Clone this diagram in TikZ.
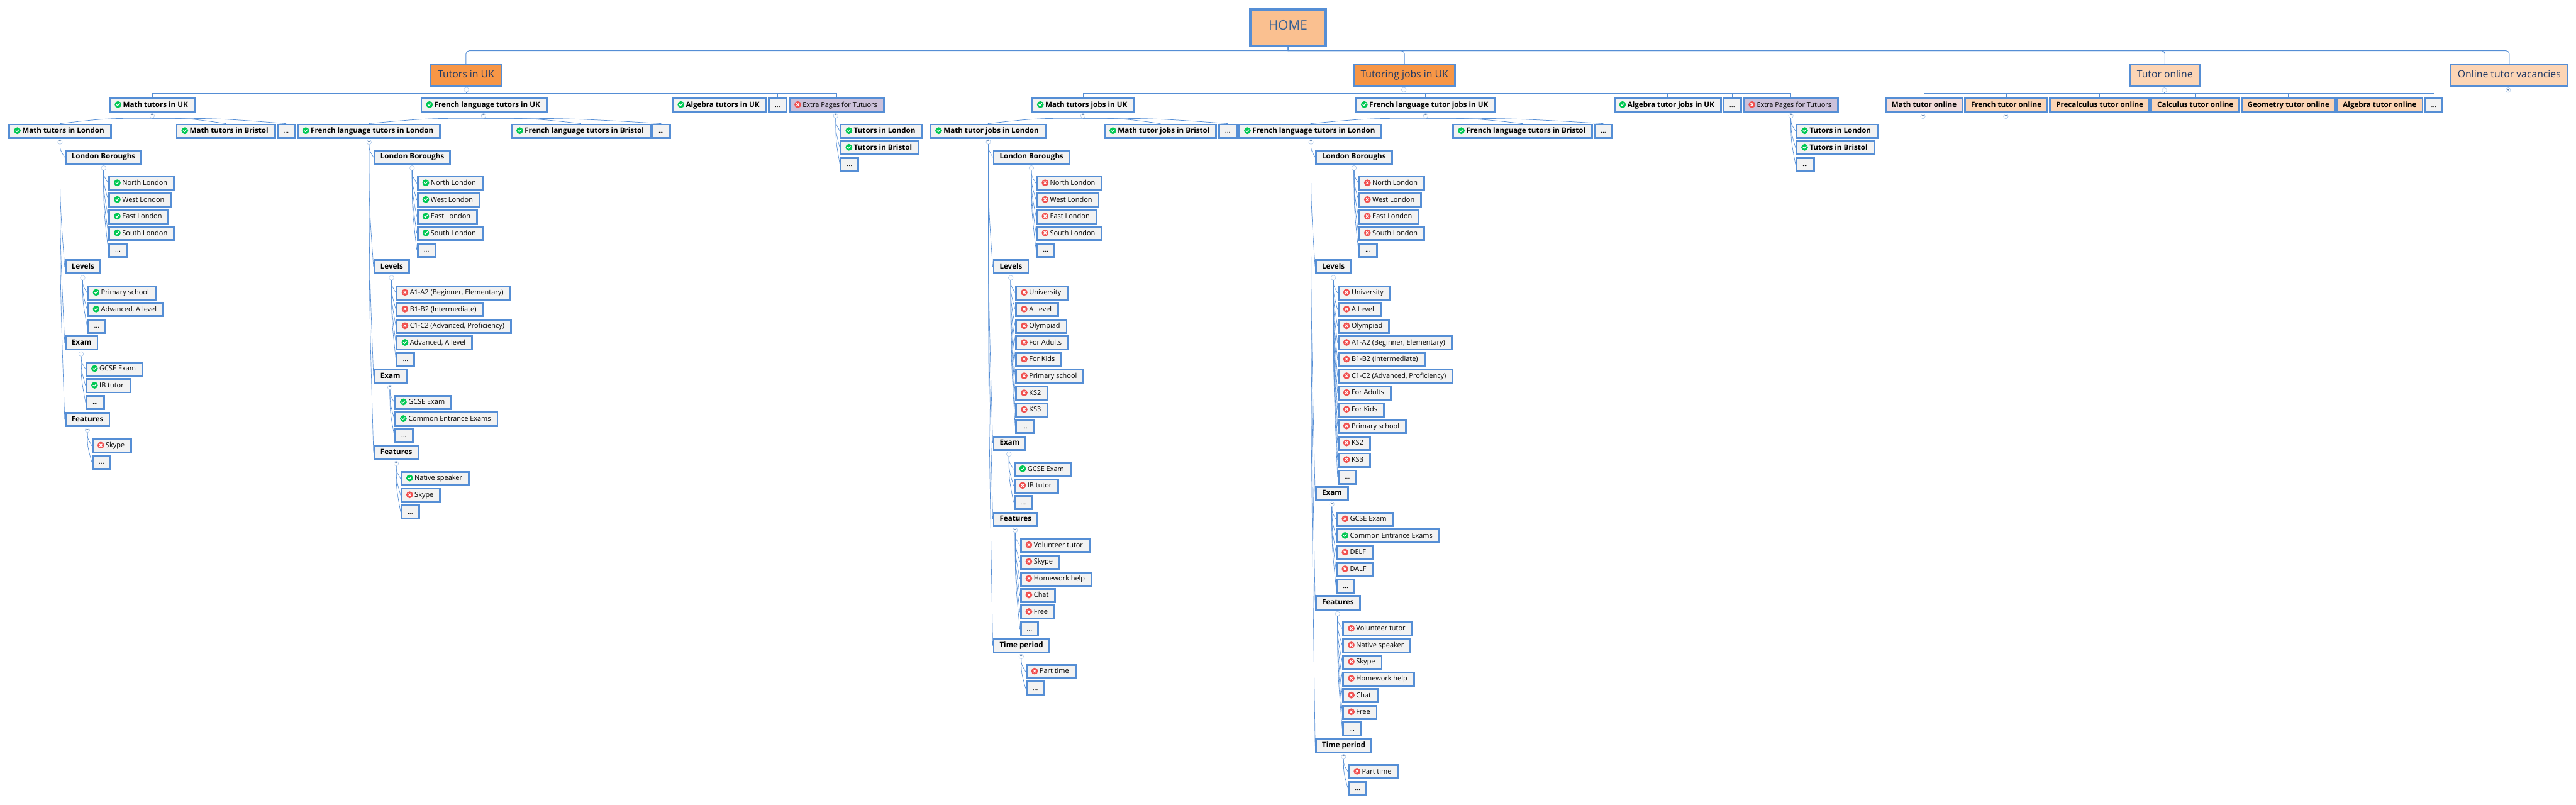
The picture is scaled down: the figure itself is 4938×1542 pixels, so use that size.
\documentclass[tikz,border=0pt]{standalone}
\usepackage{fontspec}
\setmainfont{Open Sans}
\usetikzlibrary{calc}

\definecolor{linkblue}{HTML}{558ED5}
\definecolor{boxgrey}{HTML}{F2F2F2}
\definecolor{okgreen}{HTML}{00C853}
\definecolor{nored}{HTML}{F05050}
\definecolor{navy}{HTML}{1F3864}
\definecolor{homeblue}{HTML}{366092}
\definecolor{rootfill}{HTML}{FAC090}
\definecolor{hubfill}{HTML}{F79646}
\definecolor{onlinefill}{HTML}{FCD5B5}
\definecolor{pinkfill}{HTML}{F2DCDB}
\definecolor{extrafill}{HTML}{CCC1DA}

\newcommand{\iconok}{\tikz[baseline=-4.6pt]{\fill[okgreen] (0,0) circle (6.5pt);
  \draw[white, line width=1.5pt, line cap=round] (-3pt,0pt) -- (-.8pt,-2pt) -- (3pt,2pt);}\kern3pt}
\newcommand{\iconno}{\tikz[baseline=-4.6pt]{\fill[nored] (0,0) circle (6.5pt);
  \draw[white, line width=1.5pt, line cap=round] (-2.2pt,-2.2pt) -- (2.2pt,2.2pt) (-2.2pt,2.2pt) -- (2.2pt,-2.2pt);}\kern3pt}

\begin{document}
\begin{tikzpicture}[
  x=1pt, y=-1pt,
  anybox/.style={draw=linkblue, line width=3.5pt, fill=boxgrey, anchor=north west,
    inner ysep=0pt, minimum height=25.5pt, text height=10pt, text depth=3pt,
    font=\fontsize{13.2}{15}\selectfont},
  leafbox/.style={anybox, inner xsep=9pt, execute at end node={\kern3.5pt}},
  markbox/.style={leafbox, font=\fontsize{14}{15}\selectfont\bfseries},
  headbox/.style={anybox, inner xsep=11.5pt, font=\fontsize{14}{15}\selectfont\bfseries},
  dotsbox/.style={anybox, inner xsep=11.5pt},
  topbox/.style={anybox, fill=onlinefill, inner xsep=13.5pt, minimum height=40.5pt,
    text=navy, text height=14pt, text depth=4.5pt, font=\fontsize{19}{22}\selectfont},
  togglebox/.style={circle, draw=linkblue!45, line width=.8pt, fill=white, inner sep=0pt,
    minimum size=9pt, text=linkblue!70!black, font=\fontsize{8}{8}\selectfont\bfseries},
  treelink/.style={linkblue, line width=.8pt,
    to path={.. controls ($(\tikztostart)!.5!(\tikztostart |- \tikztotarget)$) .. (\tikztotarget)}},
  archlink/.style={linkblue, line width=.9pt,
    to path={.. controls ($(\tikztostart)!.5!(\tikztostart -| \tikztotarget)$) .. (\tikztotarget)}},
  buslink/.style={linkblue, line width=1.1pt,
    to path={-- ++(0,1.8) -| (\tikztotarget)}},
  rootlink/.style={linkblue, line width=1.2pt,
    to path={-- ++(0,7.3) [rounded corners=6pt] -| (\tikztotarget)}}
]
  \useasboundingbox (0,0) rectangle (4938,1542);

  % top of the tree
  \node[topbox, fill=rootfill, line width=5pt, minimum width=145pt, minimum height=69pt,
    text=homeblue, font=\fontsize{25}{28}\selectfont] (home) at (2394,16) {HOME};
  \node[topbox, fill=hubfill] (tutors) at (824,122) {Tutors in UK};
  \node[topbox, fill=hubfill] (jobs) at (2593,122) {Tutoring jobs in UK};
  \node[topbox] (online) at (4081,122) {Tutor online};
  \node[topbox] (vacancies) at (4696,122) {Online tutor vacancies};
  \node[togglebox] (tutorst) at (894,172) {−};
  \node[togglebox] (jobst) at (2691,172) {−};
  \node[togglebox] (onlinet) at (4149,172.7) {−};
  \node[togglebox] (vacanciest) at (4808,172.7) {+};

  % tutors in UK, second row
  \node[markbox] (tMath) at (209,187) {\iconok Math tutors in UK};
  \node[markbox] (tFre) at (806,187) {\iconok French language tutors in UK};
  \node[markbox] (tAlg) at (1288,187) {\iconok Algebra tutors in UK};
  \node[dotsbox] (tDots) at (1472,187) {...};
  \node[leafbox, fill=extrafill] (tExtra) at (1512,187) {\iconno Extra Pages for Tutuors};
  \node[togglebox] (tMatht) at (291.6,222) {−};
  \node[togglebox] (tFret) at (927,222) {−};
  \node[togglebox] (tExtrat) at (1602,222) {−};

  % math tutors
  \node[markbox] (tMLon) at (16,237) {\iconok Math tutors in London};
  \node[markbox] (tMBri) at (337,237) {\iconok Math tutors in Bristol};
  \node[dotsbox] (tMDots) at (530,237) {...};
  \node[togglebox] (tMLont) at (115,272) {−};
  \node[headbox] (tMBor) at (124,287) {London Boroughs};
  \node[togglebox] (tMBort) at (198.6,322) {−};
  \node[leafbox] (tMB1) at (207.6,337) {\iconok North London};
  \node[leafbox] (tMB2) at (207.6,369) {\iconok West London};
  \node[leafbox] (tMB3) at (207.6,401) {\iconok East London};
  \node[leafbox] (tMB4) at (207.6,433) {\iconok South London};
  \node[dotsbox] (tMB5) at (207.6,465) {...};
  \node[headbox] (tMLev) at (124,497) {Levels};
  \node[togglebox] (tMLevt) at (158.5,532.5) {−};
  \node[leafbox] (tML1) at (167,547) {\iconok Primary school};
  \node[leafbox] (tML2) at (167,579) {\iconok Advanced, A level};
  \node[dotsbox] (tML3) at (167,611) {...};
  \node[headbox] (tMExa) at (124,643) {Exam};
  \node[togglebox] (tMExat) at (155.5,678.5) {−};
  \node[leafbox] (tME1) at (164,693) {\iconok GCSE Exam};
  \node[leafbox] (tME2) at (164,725) {\iconok IB tutor};
  \node[dotsbox] (tME3) at (164,757) {...};
  \node[headbox] (tMFea) at (124,790) {Features};
  \node[togglebox] (tMFeat) at (167.5,824.5) {−};
  \node[leafbox] (tMF1) at (176,840) {\iconno Skype};
  \node[dotsbox] (tMF2) at (176,871.5) {...};

  % french tutors
  \node[markbox] (tFLon) at (569,237) {\iconok French language tutors in London};
  \node[markbox] (tFBri) at (979,237) {\iconok French language tutors in Bristol};
  \node[dotsbox] (tFDots) at (1249,237) {...};
  \node[togglebox] (tFLont) at (707.5,272.5) {−};
  \node[headbox] (tFBor) at (716,287) {London Boroughs};
  \node[togglebox] (tFBort) at (790,322) {−};
  \node[leafbox] (tFB1) at (799,337) {\iconok North London};
  \node[leafbox] (tFB2) at (799,369) {\iconok West London};
  \node[leafbox] (tFB3) at (799,401) {\iconok East London};
  \node[leafbox] (tFB4) at (799,433) {\iconok South London};
  \node[dotsbox] (tFB5) at (799,465) {...};
  \node[headbox] (tFLev) at (716,497) {Levels};
  \node[togglebox] (tFLevt) at (750.5,532.5) {−};
  \node[leafbox] (tFL1) at (759,547) {\iconno A1-A2 (Beginner, Elementary)};
  \node[leafbox] (tFL2) at (759,579) {\iconno B1-B2 (Intermediate)};
  \node[leafbox] (tFL3) at (759,611) {\iconno C1-C2 (Advanced, Proficiency)};
  \node[leafbox] (tFL4) at (759,643) {\iconok Advanced, A level};
  \node[dotsbox] (tFL5) at (759,675) {...};
  \node[headbox] (tFExa) at (716,707) {Exam};
  \node[togglebox] (tFExat) at (747.5,742.5) {−};
  \node[leafbox] (tFE1) at (756,757) {\iconok GCSE Exam};
  \node[leafbox] (tFE2) at (756,789) {\iconok Common Entrance Exams};
  \node[dotsbox] (tFE3) at (756,821) {...};
  \node[headbox] (tFFea) at (716,853) {Features};
  \node[togglebox] (tFFeat) at (759.5,888.5) {−};
  \node[leafbox] (tFF1) at (768,903) {\iconok Native speaker};
  \node[leafbox] (tFF2) at (768,935) {\iconno Skype};
  \node[dotsbox] (tFF3) at (768,967) {...};

  % extra pages, tutors
  \node[markbox] (tX1) at (1610,237) {\iconok Tutors in London};
  \node[markbox] (tX2) at (1610,269) {\iconok Tutors in Bristol};
  \node[dotsbox] (tX3) at (1610,301) {...};

  % tutoring jobs, second row
  \node[markbox] (jMath) at (1977,187) {\iconok Math tutors jobs in UK};
  \node[markbox] (jFre) at (2598,187) {\iconok French language tutor jobs in UK};
  \node[markbox] (jAlg) at (3093,187) {\iconok Algebra tutor jobs in UK};
  \node[dotsbox] (jDots) at (3302,187) {...};
  \node[leafbox, fill=extrafill] (jExtra) at (3341,187) {\iconno Extra Pages for Tutuors};
  \node[togglebox] (jMatht) at (2076,222) {−};
  \node[togglebox] (jFret) at (2733,222) {−};
  \node[togglebox] (jExtrat) at (3433,222) {−};

  % math tutor jobs
  \node[markbox] (jMLon) at (1782,237) {\iconok Math tutor jobs in London};
  \node[markbox] (jMBri) at (2116,237) {\iconok Math tutor jobs in Bristol};
  \node[dotsbox] (jMDots) at (2335,237) {...};
  \node[togglebox] (jMLont) at (1894.6,272) {−};
  \node[headbox] (jMBor) at (1903,287) {London Boroughs};
  \node[togglebox] (jMBort) at (1977,322) {−};
  \node[leafbox] (jMB1) at (1986,337) {\iconno North London};
  \node[leafbox] (jMB2) at (1986,369) {\iconno West London};
  \node[leafbox] (jMB3) at (1986,401) {\iconno East London};
  \node[leafbox] (jMB4) at (1986,433) {\iconno South London};
  \node[dotsbox] (jMB5) at (1986,465) {...};
  \node[headbox] (jMLev) at (1903,497) {Levels};
  \node[togglebox] (jMLevt) at (1937.5,532.5) {−};
  \node[leafbox] (jML1) at (1946,547) {\iconno University};
  \node[leafbox] (jML2) at (1946,579) {\iconno A Level};
  \node[leafbox] (jML3) at (1946,611) {\iconno Olympiad};
  \node[leafbox] (jML4) at (1946,643) {\iconno For Adults};
  \node[leafbox] (jML5) at (1946,675) {\iconno For Kids};
  \node[leafbox] (jML6) at (1946,707) {\iconno Primary school};
  \node[leafbox] (jML7) at (1946,739.5) {\iconno KS2};
  \node[leafbox] (jML8) at (1946,771.5) {\iconno KS3};
  \node[dotsbox] (jML9) at (1946,803) {...};
  \node[headbox] (jMExa) at (1903,835) {Exam};
  \node[togglebox] (jMExat) at (1934,870.5) {−};
  \node[leafbox] (jME1) at (1943,885) {\iconok GCSE Exam};
  \node[leafbox] (jME2) at (1943,917) {\iconno IB tutor};
  \node[dotsbox] (jME3) at (1943,949) {...};
  \node[headbox] (jMFea) at (1903,981) {Features};
  \node[togglebox] (jMFeat) at (1946,1016.5) {−};
  \node[leafbox] (jMF1) at (1955,1031) {\iconno Volunteer tutor};
  \node[leafbox] (jMF2) at (1955,1063) {\iconno Skype};
  \node[leafbox] (jMF3) at (1955,1095.5) {\iconno Homework help};
  \node[leafbox] (jMF4) at (1955,1127) {\iconno Chat};
  \node[leafbox] (jMF5) at (1955,1159) {\iconno Free};
  \node[dotsbox] (jMF6) at (1955,1191.5) {...};
  \node[headbox] (jMTim) at (1903,1223) {Time period};
  \node[togglebox] (jMTimt) at (1957.6,1258.5) {−};
  \node[leafbox] (jMT1) at (1966,1273) {\iconno Part time};
  \node[dotsbox] (jMT2) at (1966,1305) {...};

  % french tutor jobs
  \node[markbox] (jFLon) at (2374,237) {\iconok French language tutors in London};
  \node[markbox] (jFBri) at (2784,237) {\iconok French language tutors in Bristol};
  \node[dotsbox] (jFDots) at (3055,237) {...};
  \node[togglebox] (jFLont) at (2513,272) {−};
  \node[headbox] (jFBor) at (2521,287) {London Boroughs};
  \node[togglebox] (jFBort) at (2595.6,322) {−};
  \node[leafbox] (jFB1) at (2604,337) {\iconno North London};
  \node[leafbox] (jFB2) at (2604,369) {\iconno West London};
  \node[leafbox] (jFB3) at (2604,401) {\iconno East London};
  \node[leafbox] (jFB4) at (2604,433) {\iconno South London};
  \node[dotsbox] (jFB5) at (2604,465) {...};
  \node[headbox] (jFLev) at (2521,497) {Levels};
  \node[togglebox] (jFLevt) at (2556,532.5) {−};
  \node[leafbox] (jFL1) at (2564,547) {\iconno University};
  \node[leafbox] (jFL2) at (2564,579) {\iconno A Level};
  \node[leafbox] (jFL3) at (2564,611) {\iconno Olympiad};
  \node[leafbox] (jFL4) at (2564,643) {\iconno A1-A2 (Beginner, Elementary)};
  \node[leafbox] (jFL5) at (2564,675) {\iconno B1-B2 (Intermediate)};
  \node[leafbox] (jFL6) at (2564,707) {\iconno C1-C2 (Advanced, Proficiency)};
  \node[leafbox] (jFL7) at (2564,739) {\iconno For Adults};
  \node[leafbox] (jFL8) at (2564,771) {\iconno For Kids};
  \node[leafbox] (jFL9) at (2564,803) {\iconno Primary school};
  \node[leafbox] (jFL10) at (2564,835.5) {\iconno KS2};
  \node[leafbox] (jFL11) at (2564,867.5) {\iconno KS3};
  \node[dotsbox] (jFL12) at (2564,900) {...};
  \node[headbox] (jFExa) at (2521,931.5) {Exam};
  \node[togglebox] (jFExat) at (2553,966.5) {−};
  \node[leafbox] (jFE1) at (2561,981) {\iconno GCSE Exam};
  \node[leafbox] (jFE2) at (2561,1013) {\iconok Common Entrance Exams};
  \node[leafbox] (jFE3) at (2561,1045) {\iconno DELF};
  \node[leafbox] (jFE4) at (2561,1077) {\iconno DALF};
  \node[dotsbox] (jFE5) at (2561,1109.5) {...};
  \node[headbox] (jFFea) at (2521,1141) {Features};
  \node[togglebox] (jFFeat) at (2564,1176.5) {−};
  \node[leafbox] (jFF1) at (2573,1191) {\iconno Volunteer tutor};
  \node[leafbox] (jFF2) at (2573,1223) {\iconno Native speaker};
  \node[leafbox] (jFF3) at (2573,1255) {\iconno Skype};
  \node[leafbox] (jFF4) at (2573,1287) {\iconno Homework help};
  \node[leafbox] (jFF5) at (2573,1319) {\iconno Chat};
  \node[leafbox] (jFF6) at (2573,1351) {\iconno Free};
  \node[dotsbox] (jFF7) at (2573,1383) {...};
  \node[headbox] (jFTim) at (2521,1415) {Time period};
  \node[togglebox] (jFTimt) at (2575.5,1450.5) {−};
  \node[leafbox] (jFT1) at (2584,1465) {\iconno Part time};
  \node[dotsbox] (jFT2) at (2584,1497) {...};

  % extra pages, jobs
  \node[markbox] (jX1) at (3442,237) {\iconok Tutors in London};
  \node[markbox] (jX2) at (3442,269) {\iconok Tutors in Bristol};
  \node[dotsbox] (jX3) at (3442,301) {...};

  % tutor online row
  \node[headbox, fill=pinkfill] (oMath) at (3613,187) {Math tutor online};
  \node[headbox, fill=onlinefill] (oFre) at (3765,187) {French tutor online};
  \node[headbox, fill=onlinefill] (oPre) at (3928,187) {Precalculus tutor online};
  \node[headbox, fill=onlinefill] (oCal) at (4122,187) {Calculus tutor online};
  \node[headbox, fill=onlinefill] (oGeo) at (4295,187) {Geometry tutor online};
  \node[headbox, fill=onlinefill] (oAlg) at (4478,187) {Algebra tutor online};
  \node[dotsbox] (oDots) at (4647,187) {...};
  \node[togglebox] (oMatht) at (3686,223) {+};
  \node[togglebox] (oFret) at (3845,223) {+};

  % connectors
  \draw[rootlink] (home.south) edge (tutors.north) edge (jobs.north)
    edge (online.north) edge (vacancies.north);
  \draw[buslink] (tutorst.south) edge (tMath.north) edge (tFre.north) edge (tAlg.north)
    edge (tDots.north) edge (tExtra.north);
  \draw[buslink] (jobst.south) edge (jMath.north) edge (jFre.north) edge (jAlg.north)
    edge (jDots.north) edge (jExtra.north);
  \draw[buslink] (onlinet.south) edge (oMath.north) edge (oFre.north) edge (oPre.north)
    edge (oCal.north) edge (oGeo.north) edge (oAlg.north) edge (oDots.north);
  \draw[archlink] (tMatht.south) edge (tMLon.north) edge (tMBri.north) edge (tMDots.north);
  \draw[archlink] (tFret.south) edge (tFLon.north) edge (tFBri.north) edge (tFDots.north);
  \draw[archlink] (jMatht.south) edge (jMLon.north) edge (jMBri.north) edge (jMDots.north);
  \draw[archlink] (jFret.south) edge (jFLon.north) edge (jFBri.north) edge (jFDots.north);

  \draw[treelink] (tExtrat) edge (tX1.west) edge (tX2.west) edge (tX3.west);
  \draw[treelink] (jExtrat) edge (jX1.west) edge (jX2.west) edge (jX3.west);

  \draw[treelink] (tMLont) edge (tMBor.west) edge (tMLev.west) edge (tMExa.west) edge (tMFea.west);
  \draw[treelink] (tMBort) edge (tMB1.west) edge (tMB2.west) edge (tMB3.west) edge (tMB4.west) edge (tMB5.west);
  \draw[treelink] (tMLevt) edge (tML1.west) edge (tML2.west) edge (tML3.west);
  \draw[treelink] (tMExat) edge (tME1.west) edge (tME2.west) edge (tME3.west);
  \draw[treelink] (tMFeat) edge (tMF1.west) edge (tMF2.west);

  \draw[treelink] (tFLont) edge (tFBor.west) edge (tFLev.west) edge (tFExa.west) edge (tFFea.west);
  \draw[treelink] (tFBort) edge (tFB1.west) edge (tFB2.west) edge (tFB3.west) edge (tFB4.west) edge (tFB5.west);
  \draw[treelink] (tFLevt) edge (tFL1.west) edge (tFL2.west) edge (tFL3.west) edge (tFL4.west) edge (tFL5.west);
  \draw[treelink] (tFExat) edge (tFE1.west) edge (tFE2.west) edge (tFE3.west);
  \draw[treelink] (tFFeat) edge (tFF1.west) edge (tFF2.west) edge (tFF3.west);

  \draw[treelink] (jMLont) edge (jMBor.west) edge (jMLev.west) edge (jMExa.west) edge (jMFea.west) edge (jMTim.west);
  \draw[treelink] (jMBort) edge (jMB1.west) edge (jMB2.west) edge (jMB3.west) edge (jMB4.west) edge (jMB5.west);
  \draw[treelink] (jMLevt) edge (jML1.west) edge (jML2.west) edge (jML3.west) edge (jML4.west) edge (jML5.west)
    edge (jML6.west) edge (jML7.west) edge (jML8.west) edge (jML9.west);
  \draw[treelink] (jMExat) edge (jME1.west) edge (jME2.west) edge (jME3.west);
  \draw[treelink] (jMFeat) edge (jMF1.west) edge (jMF2.west) edge (jMF3.west) edge (jMF4.west) edge (jMF5.west) edge (jMF6.west);
  \draw[treelink] (jMTimt) edge (jMT1.west) edge (jMT2.west);

  \draw[treelink] (jFLont) edge (jFBor.west) edge (jFLev.west) edge (jFExa.west) edge (jFFea.west) edge (jFTim.west);
  \draw[treelink] (jFBort) edge (jFB1.west) edge (jFB2.west) edge (jFB3.west) edge (jFB4.west) edge (jFB5.west);
  \draw[treelink] (jFLevt) edge (jFL1.west) edge (jFL2.west) edge (jFL3.west) edge (jFL4.west) edge (jFL5.west)
    edge (jFL6.west) edge (jFL7.west) edge (jFL8.west) edge (jFL9.west) edge (jFL10.west) edge (jFL11.west) edge (jFL12.west);
  \draw[treelink] (jFExat) edge (jFE1.west) edge (jFE2.west) edge (jFE3.west) edge (jFE4.west) edge (jFE5.west);
  \draw[treelink] (jFFeat) edge (jFF1.west) edge (jFF2.west) edge (jFF3.west) edge (jFF4.west) edge (jFF5.west)
    edge (jFF6.west) edge (jFF7.west);
  \draw[treelink] (jFTimt) edge (jFT1.west) edge (jFT2.west);

  \draw[linkblue, line width=.8pt] (tutors.south) -- (tutorst) (jobs.south) -- (jobst) (online.south) -- (onlinet)
    (vacancies.south) -- (vacanciest);
\end{tikzpicture}
\end{document}
